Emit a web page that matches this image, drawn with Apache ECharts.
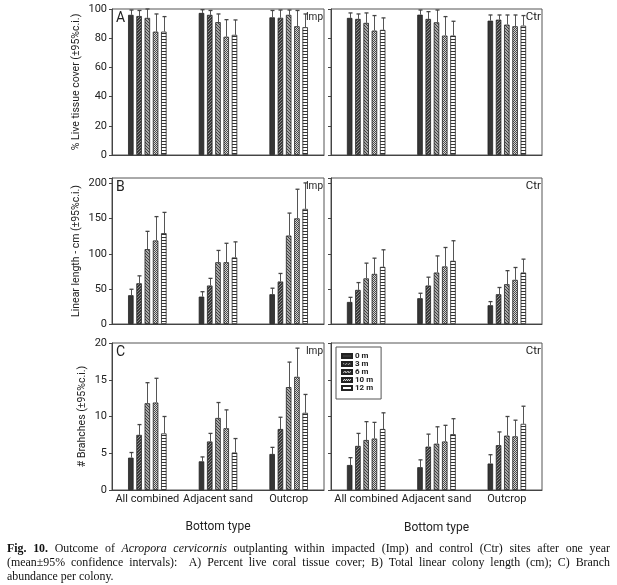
<!DOCTYPE html>
<html><head><meta charset="utf-8">
<script src="https://cdn.jsdelivr.net/npm/echarts@6/dist/echarts.min.js"></script>
<style>
html,body{margin:0;padding:0;background:#fff;}
#chart{position:absolute;left:0;top:0;width:617px;height:585px;}
#cap{position:absolute;left:7px;top:541px;width:603px;font-family:"Liberation Serif","Times New Roman",serif;font-size:11.9px;line-height:14px;color:#111;}
#cap div.j{text-align:justify;text-align-last:justify;}
</style></head><body>
<div id="chart"></div>
<div id="cap">
<div class="j"><b>Fig. 10.</b> Outcome of <i>Acropora cervicornis</i> outplanting within impacted (Imp) and control (Ctr) sites after one year</div>
<div class="j">(mean±95% confidence intervals):&nbsp; A) Percent live coral tissue cover; B) Total linear colony length (cm); C) Branch</div>
<div>abundance per colony.</div>
</div>
<script>
const depths = ['0 m', '3 m', '6 m', '10 m', '12 m'];
const categories = ['All combined', 'Adjacent sand', 'Outcrop'];

// rows: depth (0,3,6,10,12 m); columns: categories
const tissueImpMean  = [[96, 97.3, 94.3], [95.2, 96, 94], [93.9, 91, 96], [84.5, 81, 88.2], [84.5, 82.3, 87.5]];
const tissueImpUpper = [[99.3, 99.5, 99], [99, 99, 99.3], [100, 96.6, 99.3], [96.6, 92.7, 99], [94.8, 92.5, 96.6]];
const tissueCtrMean  = [[93.9, 96.1, 92], [93.2, 93.2, 92.7], [90.5, 90.9, 89.3], [85.2, 81.8, 88.2], [85.7, 81.8, 88.6]];
const tissueCtrUpper = [[97.3, 99.3, 95.9], [96.6, 98.2, 95.9], [97.3, 99.3, 95.9], [95.5, 94.8, 95.9], [93.9, 91.6, 95.5]];

const lengthImpMean  = [[41, 39, 42.4], [58, 54.8, 60.5], [106.7, 88, 126], [119, 88, 150.5], [129.5, 94.8, 164]];
const lengthImpUpper = [[49.5, 46, 51], [68.6, 65, 72], [132, 104.8, 158], [153, 115, 192], [159, 117, 201]];
const lengthCtrMean  = [[31.4, 36.7, 26.7], [48.6, 54.8, 42.4], [65, 73.3, 56.7], [71.4, 82, 62.9], [81.4, 90, 73.3]];
const lengthCtrUpper = [[38, 43.8, 31.9], [59, 66.7, 52], [86.7, 97, 76], [93.8, 109, 80.5], [105.7, 118.6, 92.4]];

const branchImpMean  = [[4.4, 3.9, 4.9], [7.5, 6.6, 8.3], [11.8, 9.8, 14], [11.9, 8.4, 15.4], [7.7, 5.1, 10.5]];
const branchImpUpper = [[5.1, 4.5, 5.8], [8.9, 7.7, 9.9], [14.6, 11.9, 17.4], [15.2, 10.9, 19.3], [10, 7, 13]];
const branchCtrMean  = [[3.4, 3.1, 3.6], [6, 5.9, 6.1], [6.8, 6.3, 7.4], [7, 6.6, 7.3], [8.3, 7.6, 9]];
const branchCtrUpper = [[4.4, 4.1, 4.8], [7.7, 7.6, 7.9], [9.3, 8.6, 10], [9.2, 8.8, 9.5], [10.5, 9.7, 11.4]];

const yTitles = ['% Live tissue cover (±95%c.i.)', 'Linear length - cm (±95%c.i.)', '# Brahches (±95%c.i.)'];
const yMax = [100, 208, 20];
const yStep = [20, 50, 5];
const panelLetters = ['A', 'B', 'C'];
const siteLabels = ['Imp', 'Ctr'];

const FONT = 'Roboto, "Open Sans", sans-serif';
const BAR_W = 5.5;

function tile(w, h, draw) {
  const c = document.createElement('canvas');
  c.width = w; c.height = h;
  const g = c.getContext('2d');
  draw(g);
  return { image: c, repeat: 'repeat' };
}
const fills = [
  '#363636',
  tile(3, 3, g => { g.fillStyle = '#3a3a3a'; g.fillRect(0, 0, 3, 3); g.fillStyle = '#8e8e8e'; for (let i = 0; i < 3; i++) g.fillRect(i, 2 - i, 1, 1); }),
  tile(3, 3, g => { g.fillStyle = '#a8a8a8'; g.fillRect(0, 0, 3, 3); g.fillStyle = '#404040'; for (let i = 0; i < 3; i++) g.fillRect(i, i, 1, 1); }),
  tile(2, 2, g => { g.fillStyle = '#d6d6d6'; g.fillRect(0, 0, 2, 2); g.fillStyle = '#4a4a4a'; g.fillRect(0, 0, 1, 1); g.fillRect(1, 1, 1, 1); }),
  tile(4, 3, g => { g.fillStyle = '#ffffff'; g.fillRect(0, 0, 4, 3); g.fillStyle = '#333333'; g.fillRect(0, 0, 4, 1); })
];

const panels = [
  { mean: tissueImpMean, upper: tissueImpUpper },
  { mean: tissueCtrMean, upper: tissueCtrUpper },
  { mean: lengthImpMean, upper: lengthImpUpper },
  { mean: lengthCtrMean, upper: lengthCtrUpper },
  { mean: branchImpMean, upper: branchImpUpper },
  { mean: branchCtrMean, upper: branchCtrUpper }
];

const rowTop = [9, 178, 343];
const rowHeight = [146, 146, 147];
const colLeft = [112, 331];
const colWidth = [212, 211];
const titleGap = [30, 30, 24];

const grids = [], xAxes = [], yAxes = [], series = [], graphics = [];

function renderErr(params, api) {
  const ci = api.value(0), di = api.value(1), m = api.value(2), u = api.value(3);
  const p0 = api.coord([ci, m]);
  const p1 = api.coord([ci, u]);
  const x = Math.round(p0[0] + (di - 2) * BAR_W * 1.5) + 0.5;
  return {
    type: 'group',
    children: [
      { type: 'line', shape: { x1: x, y1: p0[1], x2: x, y2: p1[1] }, style: { stroke: '#555', lineWidth: 1 } },
      { type: 'line', shape: { x1: x - 2, y1: p1[1], x2: x + 2, y2: p1[1] }, style: { stroke: '#444', lineWidth: 1.3 } }
    ]
  };
}

panels.forEach((p, pi) => {
  const row = Math.floor(pi / 2), col = pi % 2;
  grids.push({ left: colLeft[col], top: rowTop[row], width: colWidth[col], height: rowHeight[row], show: true, borderColor: '#555', borderWidth: 1 });
  xAxes.push({
    type: 'category', gridIndex: pi, data: categories,
    axisLine: { lineStyle: { color: '#444' } },
    axisTick: { alignWithLabel: true, length: 3, lineStyle: { color: '#444' } },
    axisLabel: { show: row === 2, interval: 0, fontFamily: FONT, fontSize: 11, color: '#222', margin: 4 },
    name: row === 2 ? 'Bottom type' : '', nameLocation: 'middle', nameGap: col === 0 ? 31 : 32,
    nameTextStyle: { fontFamily: FONT, fontSize: 12, color: '#222' }
  });
  yAxes.push({
    type: 'value', gridIndex: pi, min: 0, max: yMax[row], interval: yStep[row],
    splitLine: { show: false },
    axisLine: { show: true, lineStyle: { color: '#444' } },
    axisTick: { show: true, length: 3, lineStyle: { color: '#444' } },
    axisLabel: { show: col === 0, fontFamily: FONT, fontSize: 11, color: '#222', margin: 5,
      formatter: v => (v % yStep[row] === 0 ? String(v) : '') },
    name: col === 0 ? yTitles[row] : '', nameLocation: 'middle', nameRotate: 90, nameGap: titleGap[row],
    nameTextStyle: { fontFamily: FONT, fontSize: 10.5, color: '#222' }
  });
  depths.forEach((d, di) => {
    series.push({
      type: 'bar', name: d, xAxisIndex: pi, yAxisIndex: pi, data: p.mean[di],
      barWidth: BAR_W, barGap: '50%', silent: true,
      itemStyle: { color: fills[di], borderColor: '#222', borderWidth: 0.8 }
    });
  });
  const errData = [];
  categories.forEach((c, ci) => depths.forEach((d, di) => errData.push([ci, di, p.mean[di][ci], p.upper[di][ci]])));
  series.push({
    type: 'custom', xAxisIndex: pi, yAxisIndex: pi, data: errData, encode: { x: 0, y: 3 },
    renderItem: renderErr, silent: true, z: 5
  });
  if (col === 0) {
    graphics.push({ type: 'text', left: colLeft[col] + 4, top: rowTop[row] + 2, style: { text: panelLetters[row], fontFamily: FONT, fontSize: 14, fill: '#222' }, z: 10 });
  }
  graphics.push({
    type: 'text', right: 617 - (colLeft[col] + colWidth[col]) + 1, top: rowTop[row] + (col === 0 ? 3 : 2),
    style: { text: siteLabels[col], fontFamily: FONT, fontSize: col === 0 ? 10 : 11.5, fill: '#222' }, z: 10
  });
});

const chart = echarts.init(document.getElementById('chart'), null, { renderer: 'canvas' });
chart.setOption({
  animation: false,
  backgroundColor: '#fff',
  grid: grids,
  xAxis: xAxes,
  yAxis: yAxes,
  legend: {
    data: depths, orient: 'vertical', left: 336, top: 347,
    itemWidth: 10, itemHeight: 4, itemGap: 0,
    icon: 'rect', selectedMode: false,
    borderColor: '#555', borderWidth: 1, padding: [5, 8, 7, 5],
    textStyle: { fontFamily: FONT, fontSize: 8, fontWeight: 'bold', color: '#222', lineHeight: 8, padding: [0, 0, 0, -2] }
  },
  graphic: graphics,
  series: series
});
</script>
</body></html>
